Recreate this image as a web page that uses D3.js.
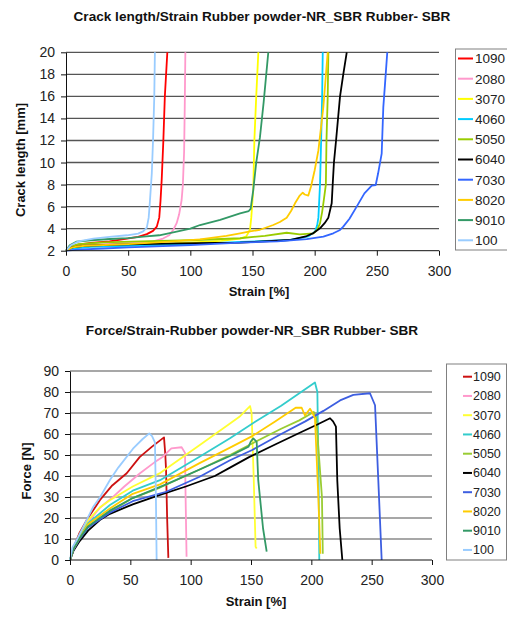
<!DOCTYPE html>
<html lang="en">
<head>
<meta charset="UTF-8">
<title>Crack length / Force vs Strain</title>
<script src="https://d3js.org/d3.v7.min.js"></script>
<style>
  html, body { margin: 0; padding: 0; background: #fff; }
  svg { display: block; font-family: "Liberation Sans", Arial, sans-serif; }
  .title { font-weight: bold; font-size: 13.6px; fill: #111; }
  .axis-title { font-weight: bold; font-size: 13px; fill: #111; }
  .tick text { font-size: 14px; fill: #222; }
  .legend text { fill: #222; }
</style>
</head>
<body>
<svg id="chart" width="507" height="618"></svg>
<script>
const seriesNames = ["1090", "2080", "3070", "4060", "5050", "6040", "7030", "8020", "9010", "100"];
const crackColors = ["#ff0000", "#ff99cc", "#ffff00", "#00ccff", "#99cc00", "#000000", "#3366ff", "#ffcc00", "#339966", "#99ccff"];
const forceColors = ["#cc1111", "#ff99cc", "#ffff33", "#33cccc", "#99cc33", "#000000", "#3d5ee0", "#ffcc00", "#339966", "#99ccff"];
const strainTicks = [0, 50, 100, 150, 200, 250, 300];
const crackTicks = [2, 4, 6, 8, 10, 12, 14, 16, 18, 20];
const forceTicks = [0, 10, 20, 30, 40, 50, 60, 70, 80, 90];

// crack length [mm] vs strain [%]
const crack1090 = [[0,2],[5,2.4],[10,2.55],[20,2.7],[35,2.85],[49,3.1],[58,3.25],[65,3.5],[70,3.8],[73,4.18],[75,5],[76,6.5],[77,8.5],[78.3,12],[79.5,16],[81.5,20]];
const crack2080 = [[0,2],[5,2.3],[15,2.5],[30,2.6],[50,2.7],[70,2.85],[78,3.1],[83,3.4],[86.3,3.9],[89,4.5],[91,5.3],[93,6.6],[94,8],[95,11],[95.5,15],[96,20]];
const crack3070 = [[0,2],[5,2.3],[15,2.45],[40,2.55],[80,2.65],[102,2.75],[125,2.9],[140,3.1],[145,3.3],[146.5,3.6],[148,3.9],[149,5],[150.6,7.5],[151.5,12],[153,16],[154.7,20]];
const crack4060 = [[0,2],[5,2.2],[20,2.35],[50,2.45],[100,2.6],[140,2.8],[180,2.97],[195,3.3],[200.3,3.73],[202,4.3],[203,5],[204.3,8],[205.2,12],[206,16],[206.5,20]];
const crack5050 = [[0,2],[4,2.4],[10,2.6],[30,2.75],[60,2.85],[100,2.95],[140,3.13],[160,3.35],[177.5,3.63],[188,3.48],[199,3.58],[202,3.9],[204.3,4.48],[206,5.5],[207,6.3],[209,8],[209.5,12],[210.5,16],[211,20]];
const crack6040 = [[0,2],[5,2.3],[15,2.45],[40,2.55],[80,2.65],[120,2.7],[140,2.73],[180,2.97],[193.6,3.33],[199,3.6],[204.3,4.03],[208,4.5],[211,5],[213.7,6.3],[214.5,8],[215.5,10],[217.2,12],[220.4,16],[223,18],[225.8,20]];
const crack7030 = [[0,2],[10,2.1],[30,2.2],[50,2.3],[100,2.5],[140,2.73],[170,2.85],[193.6,3.05],[207,3.27],[215,3.58],[220,3.85],[223,4.18],[228,4.9],[233.8,6],[240,7.2],[245.9,7.9],[249.1,7.96],[251,9],[253.9,10.8],[255.2,15],[256.5,17],[258.4,20]];
const crack8020 = [[0,2],[5,2.3],[15,2.45],[50,2.6],[80,2.8],[107.8,3.03],[129,3.35],[140,3.58],[148,3.75],[156,3.9],[166.7,4.33],[172,4.6],[177.5,5],[181,5.6],[184.2,6.3],[188,7],[190.4,7.26],[192,7.1],[194.9,7],[197,7.8],[200,9.3],[203,11.1],[207,15.07],[210.5,20]];
const crack9010 = [[0,2],[3,2.5],[8.6,2.83],[20,2.95],[35.4,3.06],[50,3.15],[62.2,3.27],[75,3.4],[89,3.73],[100,4],[107.8,4.33],[124,4.79],[140,5.39],[147,5.6],[148.5,5.8],[150.6,7.5],[153,10],[156,12.3],[159,15.5],[162.7,20]];
const crack100 = [[0,2],[4,2.5],[10,2.85],[22,3.1],[35,3.25],[49,3.4],[58,3.55],[62,3.75],[65,4.1],[66.5,5],[67.5,6.5],[69,9],[70,12],[71,16],[71.5,20]];

// force [N] vs strain [%]
const force1090 = [[0,0],[3,6],[8,13],[13.8,19],[24.9,28.6],[35,35.5],[47,41.3],[57.7,49],[68,54],[77.9,58.4],[79,50],[79.6,42.9],[80.5,20],[81.5,1]];
const force2080 = [[0,0],[3,5],[8,11],[15,18],[25,25],[35.9,30.2],[45,35],[58,41.3],[70,46.5],[77,49.2],[84,53.2],[92.5,53.7],[95.3,51],[95.8,30],[96.6,1.6]];
const force3070 = [[0,0],[3,6],[8,12],[15,19],[24.7,25],[33,28.5],[52,35],[75,41.5],[107,54.5],[132.6,65],[141,68.5],[149.2,73.3],[150.5,70],[152.3,38],[153.8,6.3],[154.7,5.5]];
const force4060 = [[0,0],[3,5.5],[8,11],[15,17.5],[33.1,26.2],[52,33],[74.6,38],[107,49],[132.6,58],[153.8,66],[175,73.5],[203,84.5],[205,80],[206,40],[206.6,0]];
const force5050 = [[0,0],[3,5],[8,10],[15,16],[33,23],[52,29.5],[74.6,34.5],[107,43],[132.6,50],[141,52.5],[151,55.5],[175,62.5],[190,66.5],[202,70.5],[204,68],[208.8,30],[209.5,3]];
const force6040 = [[0,0],[3,4.5],[8,9],[15,14],[24.7,19],[33.1,22],[52,26.5],[74.6,31],[96,35],[120,40],[132.6,44],[148.4,49],[170,55],[190,60.5],[205,64.5],[215.5,67.5],[218,66],[220.4,63.5],[221.5,38],[223.5,15],[225.7,0]];
const force7030 = [[0,0],[3,5],[8,10],[15,15.5],[33,22.5],[52,28],[79.7,32.5],[107,39.5],[132.6,47.5],[151,52.4],[175,60],[195,66],[210,71],[223.8,76],[234.8,78.6],[248.6,79.4],[252.8,73.7],[255.5,38],[258.3,0]];
const force8020 = [[0,0],[3,5.5],[8,10.5],[15,17],[33,24.5],[52,31.5],[74.6,36],[107,46],[132.6,53.5],[151,59],[170,66],[187,72.5],[192,72.5],[194.7,68.8],[198.9,72],[201,70],[203,67.6],[205.8,30],[207.5,3]];
const force9010 = [[0,0],[3,5.5],[8,10.5],[15,16],[33,23.5],[52,29.5],[79.7,36],[107,43],[132.6,49.5],[148,54],[149.7,56.3],[151.9,57.9],[154.7,56.3],[156,38],[160,15],[163,4]];
const force100 = [[0,0],[2,6],[5.5,9.5],[8.3,12.7],[12,17],[19.3,25.4],[25,30],[33.1,38.1],[40,44],[52.2,53],[60,57.5],[65.7,60.3],[68,59],[70.4,56],[71.2,30],[71.8,0]];

const crackData = [crack1090, crack2080, crack3070, crack4060, crack5050, crack6040, crack7030, crack8020, crack9010, crack100];
const forceData = [force1090, force2080, force3070, force4060, force5050, force6040, force7030, force8020, force9010, force100];

const svg = d3.select("#chart");

function drawChart(cfg) {
  const g = svg.append("g");
  const x = d3.scaleLinear().domain([0, 300]).range(cfg.xRange);
  const y = d3.scaleLinear().domain(cfg.yDomain).range(cfg.yRange);

  // title
  g.append("text").attr("class", "title")
    .attr("x", cfg.titleX).attr("y", cfg.titleY)
    .attr("text-anchor", "middle")
    .text(cfg.title);

  // horizontal gridlines
  g.append("g").selectAll("line")
    .data(cfg.yTicks.slice(1))
    .join("line")
    .attr("x1", x(0)).attr("x2", x(300))
    .attr("y1", d => y(d)).attr("y2", d => y(d))
    .attr("stroke", cfg.gridColor)
    .attr("stroke-width", 1.3);

  // series
  const line = d3.line().x(d => x(d[0])).y(d => y(d[1]));
  g.append("g").selectAll("path")
    .data(cfg.data)
    .join("path")
    .attr("d", line)
    .attr("fill", "none")
    .attr("stroke", (d, i) => cfg.colors[i])
    .attr("stroke-width", 1.8)
    .attr("stroke-linejoin", "round");

  // axes
  const xAxis = g.append("g")
    .attr("transform", `translate(0,${cfg.yRange[0]})`)
    .call(d3.axisBottom(x).tickValues(strainTicks).tickSize(5).tickSizeOuter(5).tickPadding(cfg.xPad));
  const yAxis = g.append("g")
    .attr("transform", `translate(${cfg.xRange[0]},0)`)
    .call(d3.axisLeft(y).tickValues(cfg.yTicks).tickSize(5).tickSizeOuter(0).tickPadding(6));
  [xAxis, yAxis].forEach(a => {
    a.selectAll("path, line").attr("stroke", "#111");
    a.selectAll("text").attr("font-family", null).attr("font-size", null);
  });
  xAxis.select(".domain").attr("d", `M${cfg.xRange[0]},0H${cfg.xRange[1]}`);

  g.append("text").attr("class", "axis-title")
    .attr("x", cfg.xTitleX).attr("y", cfg.xTitleY)
    .attr("text-anchor", "middle")
    .text("Strain [%]");
  g.append("text").attr("class", "axis-title")
    .attr("transform", `translate(${cfg.yTitleX},${cfg.yTitleY}) rotate(-90)`)
    .attr("text-anchor", "middle")
    .text(cfg.yTitle);

  // legend
  const lg = g.append("g").attr("class", "legend");
  lg.append("rect")
    .attr("x", cfg.legend.x).attr("y", cfg.legend.y)
    .attr("width", cfg.legend.w).attr("height", cfg.legend.h)
    .attr("fill", "#fff").attr("stroke", "#808080");
  const rows = lg.selectAll("g.row")
    .data(seriesNames)
    .join("g").attr("class", "row")
    .attr("transform", (d, i) => `translate(0,${cfg.legend.row0 + i * cfg.legend.step})`);
  rows.append("line")
    .attr("x1", cfg.legend.lx1).attr("x2", cfg.legend.lx2)
    .attr("stroke", (d, i) => cfg.colors[i])
    .attr("stroke-width", 2);
  rows.append("text")
    .attr("x", cfg.legend.tx).attr("dy", "0.36em")
    .attr("font-size", cfg.legend.fs)
    .text(d => d);
}

drawChart({
  title: "Crack length/Strain Rubber powder-NR_SBR Rubber- SBR",
  titleX: 262, titleY: 21,
  xRange: [66, 439], yRange: [250.7, 52.3],
  yDomain: [2, 20], yTicks: crackTicks, xPad: 10,
  yTitle: "Crack length [mm]", yTitleX: 25, yTitleY: 160,
  xTitleX: 259, xTitleY: 296,
  gridColor: "#555",
  colors: crackColors, data: crackData,
  legend: { x: 455.5, y: 49, w: 60, h: 201, row0: 58.5, step: 20.2, lx1: 458, lx2: 473, tx: 475, fs: "13.5px" }
});

drawChart({
  title: "Force/Strain-Rubber powder-NR_SBR Rubber- SBR",
  titleX: 252, titleY: 335,
  xRange: [70, 432], yRange: [560, 371],
  yDomain: [0, 90], yTicks: forceTicks, xPad: 10,
  yTitle: "Force [N]", yTitleX: 31, yTitleY: 471,
  xTitleX: 256, xTitleY: 606,
  gridColor: "#8a8a8a",
  colors: forceColors, data: forceData,
  legend: { x: 446.5, y: 364, w: 60, h: 196, row0: 376.7, step: 19.25, lx1: 463, lx2: 472, tx: 473, fs: "12.5px" }
});
</script>
</body>
</html>
